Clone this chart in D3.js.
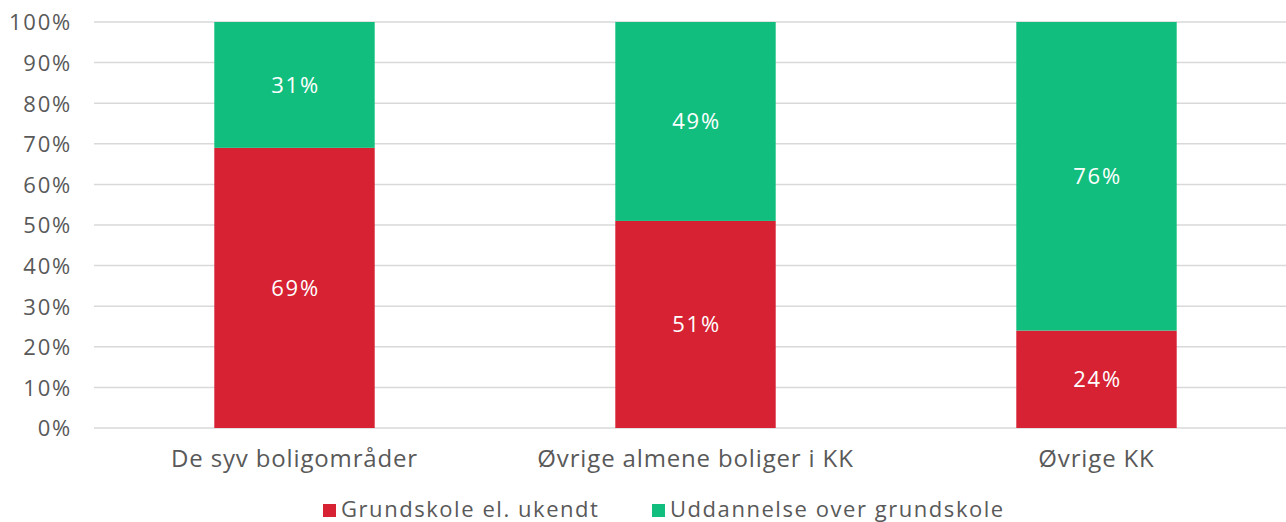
<!DOCTYPE html>
<html>
<head>
<meta charset="utf-8">
<script src="https://cdn.jsdelivr.net/npm/d3@7"></script>
<style>
  body { margin: 0; background: #fff; }
  svg text { font-family: "Open Sans", sans-serif; }
</style>
</head>
<body>
<div id="chart"></div>
<script>
const categories = ["De syv boligområder", "Øvrige almene boliger i KK", "Øvrige KK"];
const seriesNames = ["Grundskole el. ukendt", "Uddannelse over grundskole"];
const grundskole = [69, 51, 24];
const uddannelse = [31, 49, 76];
const yTicks = [0, 10, 20, 30, 40, 50, 60, 70, 80, 90, 100];
const colors = ["#d62233", "#12be7e"];

const W = 1286, H = 522;
const svg = d3.select("#chart").append("svg")
  .attr("width", W).attr("height", H);

const x = d3.scaleBand()
  .domain(categories)
  .range([94, 1297])
  .paddingInner(0.6)
  .paddingOuter(0.3);

const y = d3.scaleLinear().domain([0, 100]).range([428, 22]);

// gridlines
svg.append("g").selectAll("line")
  .data(yTicks)
  .enter().append("line")
  .attr("x1", 94).attr("x2", W)
  .attr("y1", d => y(d)).attr("y2", d => y(d))
  .attr("stroke", "#d9d9d9")
  .attr("stroke-width", 1.5);

// y axis labels
const yAxis = d3.axisLeft(y).tickValues(yTicks).tickFormat(d => d + "%").tickSize(0).tickPadding(0);
const ya = svg.append("g").attr("transform", "translate(72,0)").call(yAxis);
ya.select(".domain").remove();
ya.selectAll("text")
  .attr("fill", "#595959")
  .style("font-size", "22px")
  .style("letter-spacing", "1.8px")
  .attr("dy", "0.36em");

// stacked bars
const rows = categories.map((c, i) => ({ cat: c, s0: grundskole[i], s1: uddannelse[i] }));
const stack = d3.stack().keys(["s0", "s1"])(rows);

stack.forEach((layer, li) => {
  const g = svg.append("g");
  g.selectAll("rect")
    .data(layer)
    .enter().append("rect")
    .attr("x", d => x(d.data.cat))
    .attr("width", x.bandwidth())
    .attr("y", d => y(d[1]))
    .attr("height", d => y(d[0]) - y(d[1]))
    .attr("fill", colors[li]);
  g.selectAll("text")
    .data(layer)
    .enter().append("text")
    .attr("x", d => x(d.data.cat) + x.bandwidth() / 2 + 1)
    .attr("y", d => y((d[0] + d[1]) / 2))
    .attr("dy", "0.36em")
    .attr("text-anchor", "middle")
    .attr("fill", "#fff")
    .style("font-size", "22px")
    .style("letter-spacing", "1.8px")
    .text(d => (d[1] - d[0]) + "%");
});

// x axis labels
const xAxis = d3.axisBottom(x).tickSize(0).tickPadding(0);
const xa = svg.append("g").attr("transform", "translate(0,467)").call(xAxis);
xa.select(".domain").remove();
xa.selectAll("text")
  .attr("fill", "#595959")
  .style("font-size", "24px")
  .style("letter-spacing", "0.85px")
  .attr("dy", "0");

// legend
const legendX = [323, 652];
const legend = svg.append("g").selectAll("g")
  .data(seriesNames)
  .enter().append("g")
  .attr("transform", (d, i) => "translate(" + legendX[i] + ",504)");
legend.append("rect")
  .attr("width", 13).attr("height", 13)
  .attr("fill", (d, i) => colors[i]);
legend.append("text")
  .attr("x", 18).attr("y", 13)
  .attr("fill", "#595959")
  .style("font-size", "22px")
  .style("letter-spacing", "1.55px")
  .text(d => d);
</script>
</body>
</html>
